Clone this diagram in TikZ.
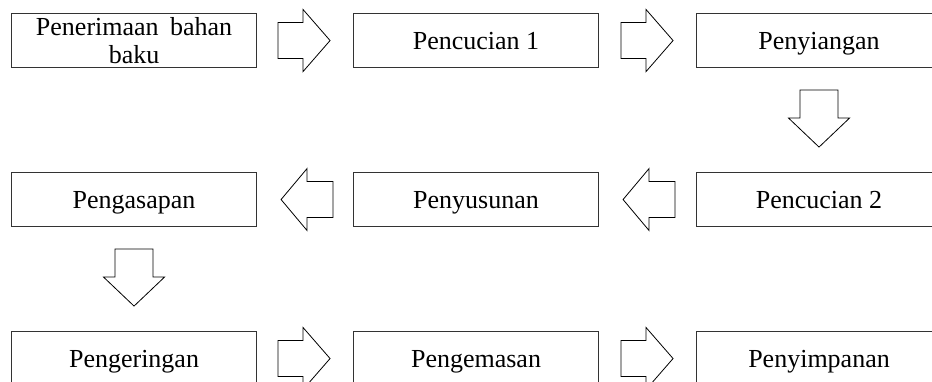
\documentclass[tikz,border=0pt]{standalone}
\usepackage{fontspec}
\setmainfont{Liberation Serif}
\usetikzlibrary{calc}
\begin{document}
\begin{tikzpicture}[x=0.75pt,y=-0.75pt,
  procbox/.style={draw=black!80,line width=0.8pt,minimum width=245*0.75pt,minimum height=54*0.75pt,
    inner sep=0pt,font=\fontsize{19.5pt}{20.5pt}\selectfont,align=center,anchor=north west},
  oneline/.style={text height=17.7pt,text depth=3.75pt},
  blockarrow/.style={draw=black,line width=0.6pt,line join=miter},
  rarrow/.pic={\path[blockarrow] (-52,-18) -- (-27,-18) -- (-27,-31) -- (0,0) -- (-27,31) -- (-27,18) -- (-52,18) -- cycle;},
  larrow/.pic={\path[blockarrow] (52,-18) -- (26,-18) -- (26,-31) -- (0,0) -- (26,31) -- (26,18) -- (52,18) -- cycle;},
  darrow/.pic={\path[blockarrow] (-19,-57) -- (19,-57) -- (19,-29) -- (30.5,-29) -- (0,0) -- (-30.5,-29) -- (-19,-29) -- cycle;}
]
\clip (0,0) rectangle (932,382);
% row 1
\node[procbox] (b1) at (11,13) {Penerimaan\hspace{8.5pt}bahan\\baku};
\node[procbox,oneline] (b2) at (353,13) {Pencucian 1};
\node[procbox,oneline] (b3) at (696,13) {Penyiangan};
% row 2
\node[procbox,oneline] (b4) at (696,172) {Pencucian 2};
\node[procbox,oneline] (b5) at (353,172) {Penyusunan};
\node[procbox,oneline] (b6) at (11,172) {Pengasapan};
% row 3
\node[procbox,oneline] (b7) at (11,331) {Pengeringan};
\node[procbox,oneline] (b8) at (353,331) {Pengemasan};
\node[procbox,oneline] (b9) at (696,331) {Penyimpanan};
% arrows
\pic at ($(b1.east)+(73,0)$) {rarrow};
\pic at ($(b2.east)+(74,0)$) {rarrow};
\pic at ($(b3.south)+(0,79)$) {darrow};
\pic at ($(b5.east)+(24,0)$) {larrow};
\pic at ($(b6.east)+(24,0)$) {larrow};
\pic at ($(b6.south)+(0,79)$) {darrow};
\pic at ($(b7.east)+(73,0)$) {rarrow};
\pic at ($(b8.east)+(74,0)$) {rarrow};
\end{tikzpicture}
\end{document}
